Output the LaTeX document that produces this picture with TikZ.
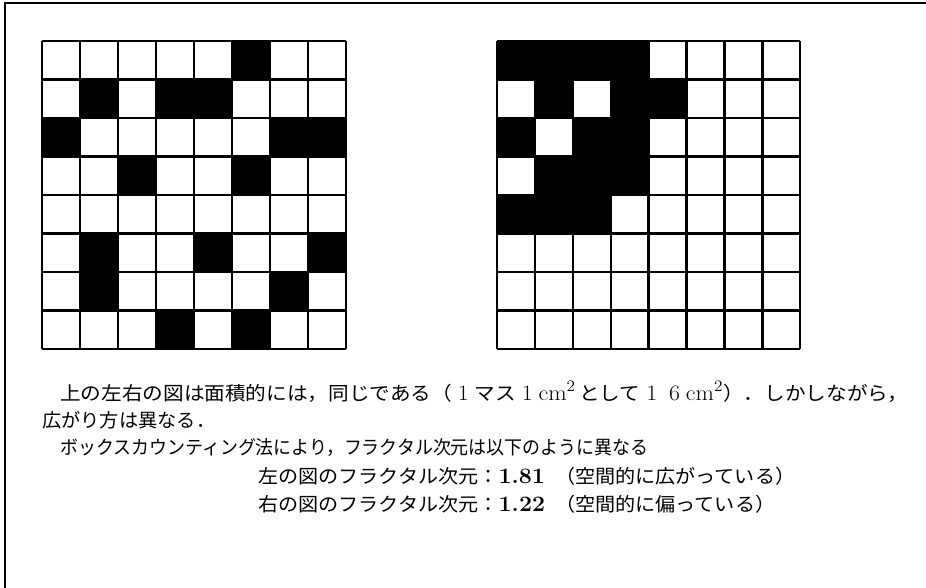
\documentclass[tikz,border=0pt]{standalone}
\usepackage{fontspec}
\usepackage{graphicx}
\newfontfamily\jp{Noto Sans CJK JP}
\newsavebox\linebox
\newcommand\fitline[2]{\sbox\linebox{#2}\resizebox{#1}{\ht\linebox}{\usebox\linebox}}
\newcommand\lat{\rmfamily\fontsize{16.5}{18}\selectfont}
\newcommand\fw[1]{\makebox[1.1em]{\lat #1}}
\begin{document}
\begin{tikzpicture}[x=0.75pt,y=-0.75pt,
  gridline/.style={line width=1.8pt},
  frameline/.style={line width=1.5pt},
  txt/.style={anchor=west,inner sep=0pt,font=\jp\fontsize{14.3}{16}\selectfont}]
\useasboundingbox (0,0) rectangle (926,588);
\fill[white] (0,0) rectangle (926,588);
\draw[frameline] (5,588) -- (5,3) -- (926,3);
% left grid
\foreach \c/\r in {5/0,1/1,3/1,4/1,0/2,6/2,7/2,2/3,5/3,1/5,4/5,7/5,1/6,6/6,3/7,5/7}
  \fill (42+\c*38,41+\r*38.5) rectangle ++(38,38.5);
\foreach \i in {0,...,8} {
  \draw[gridline] (42+\i*38,41) -- (42+\i*38,349);
  \draw[gridline] (42,41+\i*38.5) -- (346,41+\i*38.5);
}
% right grid
\foreach \c/\r in {0/0,1/0,2/0,3/0,1/1,3/1,4/1,0/2,2/2,3/2,1/3,2/3,3/3,0/4,1/4,2/4}
  \fill (497+\c*37.9,41+\r*38.5) rectangle ++(37.9,38.5);
\foreach \i in {0,...,8} {
  \draw[gridline] (497+\i*37.9,41) -- (497+\i*37.9,349);
  \draw[gridline] (497,41+\i*38.5) -- (800,41+\i*38.5);
}
% text
\node[txt] (l1) at (60,392) {\fitline{636pt}{上の左右の図は面積的には，同じである（\fw{1}マス\fw{1}{\lat cm$^2$}\,として\fw{1}\fw{6}{\lat cm$^2$}）．しかしながら，}};
\node[txt] (l2) at (42,420) {\fitline{129.75pt}{広がり方は異なる．}};
\node[txt] (l3) at (60,448) {\fitline{441pt}{ボックスカウンティング法により，フラクタル次元は以下のように異なる}};
\node[txt] (l4) at (258,476) {\fitline{402.75pt}{左の図のフラクタル次元：{\lat\bfseries 1.81}\enspace（空間的に広がっている）}};
\node[txt] (l5) at (258,504) {\fitline{387.75pt}{右の図のフラクタル次元：{\lat\bfseries 1.22}\enspace（空間的に偏っている）}};
\end{tikzpicture}
\end{document}
